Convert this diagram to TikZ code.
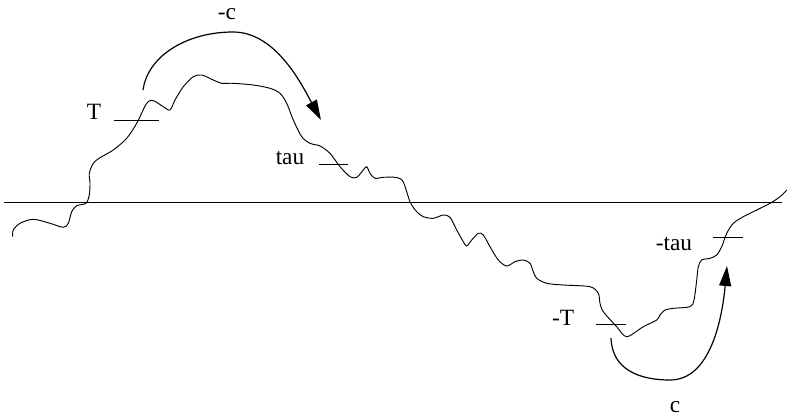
\documentclass[tikz,border=0pt]{standalone}
\usepackage{fontspec}
\setmainfont{Liberation Serif}
\usetikzlibrary{arrows.meta}
\begin{document}
\begin{tikzpicture}[x=0.75pt,y=-0.75pt,
    lbl/.style={anchor=base,inner sep=0pt,font=\fontsize{17.5}{20}\selectfont},
    bigarrow/.style={line width=0.9pt,-{Triangle[length=15pt,width=9pt]}},
    path/.style={line width=0.7pt}]
			\useasboundingbox (0,0) rectangle (787,417);
			% axis
			\draw[path] (4,202) -- (782,202);
			% the path
			\draw[path] plot[smooth,tension=0.5] coordinates {
				(12.7,236.7) (13.3,230) (20,223.3) (33.3,219.3) (50,223.3) (63.3,227.3)
				(68.3,223.3) (71.7,211.7) (76.7,205.7) (86,203.3) (89.3,195) (90,183.3)
				(89.3,173.3) (93.3,163.3) (100,157.7) (113.3,150) (126.7,138.3) (136.7,123.3)
				(146.7,103.3) (153.3,100.7) (163.3,106.7) (170,110) (175,100) (183.3,86.7)
				(193.3,76.7) (201.7,75) (213.3,80) (221.7,83.3) (233.3,83.3) (253.3,85)
				(270,88.3) (280,93.3) (286.7,103.3) (293.3,120) (301.7,136.7) (310,143.3)
				(320,146) (330,153.3) (340,166.7) (350,176.7) (356.7,177.3) (363.3,170)
				(366.7,166.7) (370,173.3) (375,178.3) (383.3,177.3) (396.7,177.5)
				(403.3,182) (410,201.7) (416.7,211.7) (423.3,216.7) (433.3,218.3) (443.3,215)
				(450,217.3) (456.7,230) (463.3,241.7) (466.7,246) (471.7,240) (478.3,233.3)
				(483.3,235) (490,246.7) (498.3,260) (506.7,266) (515,261.7) (523.3,260)
				(530,263.3) (533.3,271.7) (536.7,278.3) (546.7,283.3) (563.3,285) (590,286.7)
				(598.3,293.3) (600,303.3) (603.3,311.7) (616.7,326.7) (626.7,336.7) (643.3,326.7)
				(656.7,320) (660,315) (665,310) (673.3,308.3) (690,306.7) (694,300)
				(696.7,280) (698.3,266.7) (701.7,260) (710,258.3) (716.7,255) (721.7,246.7)
				(726.7,233.3) (733.3,223.3) (743.3,216.7) (756.7,210) (770,203.3) (780,196.7)
				(787,190)};
			% levels
			\draw[path] (114,120) -- (159,120);
			\draw[path] (319,164) -- (348,164);
			\draw[path] (596,324) -- (626,324);
			\draw[path] (713,237) -- (743,237);
			\node[lbl] (T) at (94,120) {T};
			\node[lbl] (tau) at (290,164) {tau};
			\node[lbl] (mT) at (563,325) {-T};
			\node[lbl] (mtau) at (674,250.5) {-tau};
			% jumps
			\coordinate (ms) at (143,90);
			\coordinate (mtop) at (233,32);
			\coordinate (me) at (321,120);
			\coordinate (ps) at (611,338);
			\coordinate (pbot) at (670,380);
			\coordinate (pe) at (727,266);
			\draw[bigarrow] (ms) .. controls (148,55) and (188,32) .. (mtop)
				.. controls (276,32) and (302,85) .. (me);
			\draw[bigarrow] (ps) .. controls (612,370) and (640,380) .. (pbot)
				.. controls (710,380) and (722,320) .. (pe);
			\node[lbl] (mc) at (227,20) {-c};
			\node[lbl] (c) at (675,412.5) {c};
		\end{tikzpicture}
\end{document}
